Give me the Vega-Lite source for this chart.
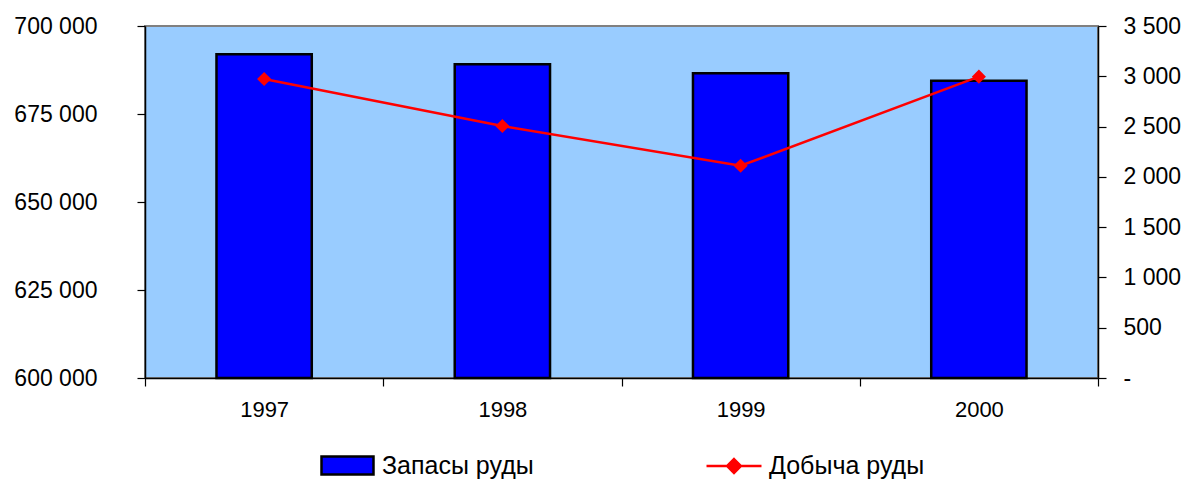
{
  "$schema": "https://vega.github.io/schema/vega-lite/v6.json",
  "autosize": "none",
  "width": 953,
  "height": 352,
  "padding": {"left": 145, "top": 26, "right": 91, "bottom": 101},
  "background": "white",
  "config": {
    "font": "Liberation Sans",
    "view": {"fill": "#99CCFF", "stroke": "#808080", "strokeWidth": 2},
    "axis": {"grid": false, "domainColor": "#000000", "tickColor": "#000000", "labelColor": "#000000", "labelFont": "Liberation Sans", "labelFontSize": 23, "title": null, "domainWidth": 1.5, "tickWidth": 1.2},
    "legend": {"labelFont": "Liberation Sans", "labelFontSize": 25, "labelColor": "#000000", "title": null, "labelLimit": 400}
  },
  "data": {"values": [
    {"year": "1997", "reserves": 692000, "production": 2973},
    {"year": "1998", "reserves": 689100, "production": 2506},
    {"year": "1999", "reserves": 686550, "production": 2110},
    {"year": "2000", "reserves": 684450, "production": 2996}
  ]},
  "encoding": {
    "x": {"field": "year", "type": "nominal", "scale": {"paddingInner": 0, "paddingOuter": 0},
      "axis": {"labelAngle": 0, "tickBand": "extent", "tickSize": 8, "labelPadding": 13, "labelFontSize": 22}}
  },
  "layer": [
    {
      "mark": {"type": "bar", "stroke": "#000000", "strokeWidth": 2.5, "width": {"band": 0.4}},
      "encoding": {
        "y": {"field": "reserves", "type": "quantitative", "scale": {"domain": [600000, 700000], "zero": false},
          "axis": {"orient": "left", "values": [600000, 625000, 650000, 675000, 700000], "tickSize": 8, "labelPadding": 40,
            "labelExpr": "replace(format(datum.value, ','), ',', ' ')"}},
        "y2": {"datum": 600000},
        "fill": {"datum": "Запасы руды", "type": "nominal", "scale": {"range": ["#0000FF"]},
          "legend": {"orient": "none", "legendX": 188, "legendY": 425, "symbolType": "M-2,-0.7H2V0.7H-2Z", "symbolSize": 676, "symbolStrokeColor": "#000000", "symbolStrokeWidth": 2.5, "symbolFillColor": "#0000FF", "labelOffset": 20}}
      }
    },
    {
      "mark": {"type": "line", "strokeWidth": 2.5},
      "encoding": {
        "y": {"field": "production", "type": "quantitative", "scale": {"domain": [0, 3500]},
          "axis": {"orient": "right", "values": [0, 500, 1000, 1500, 2000, 2500, 3000, 3500], "tickSize": 8, "labelPadding": 17,
            "labelExpr": "datum.value == 0 ? '-' : replace(format(datum.value, ','), ',', ' ')"}},
        "stroke": {"datum": "Добыча руды", "type": "nominal", "scale": {"range": ["#FF0000"]},
          "legend": {"orient": "none", "legendX": 574, "legendY": 425, "symbolType": "M-2,0H2M0,-0.5L0.5,0L0,0.5L-0.5,0Z", "symbolSize": 756, "symbolStrokeColor": "#FF0000", "symbolFillColor": "#FF0000", "symbolStrokeWidth": 2.5, "labelOffset": 20}}
      }
    },
    {
      "mark": {"type": "point", "shape": "diamond", "filled": true, "color": "#FF0000", "size": 200, "opacity": 1},
      "encoding": {
        "y": {"field": "production", "type": "quantitative", "scale": {"domain": [0, 3500]}, "axis": null}
      }
    }
  ],
  "resolve": {"scale": {"y": "independent"}}
}
